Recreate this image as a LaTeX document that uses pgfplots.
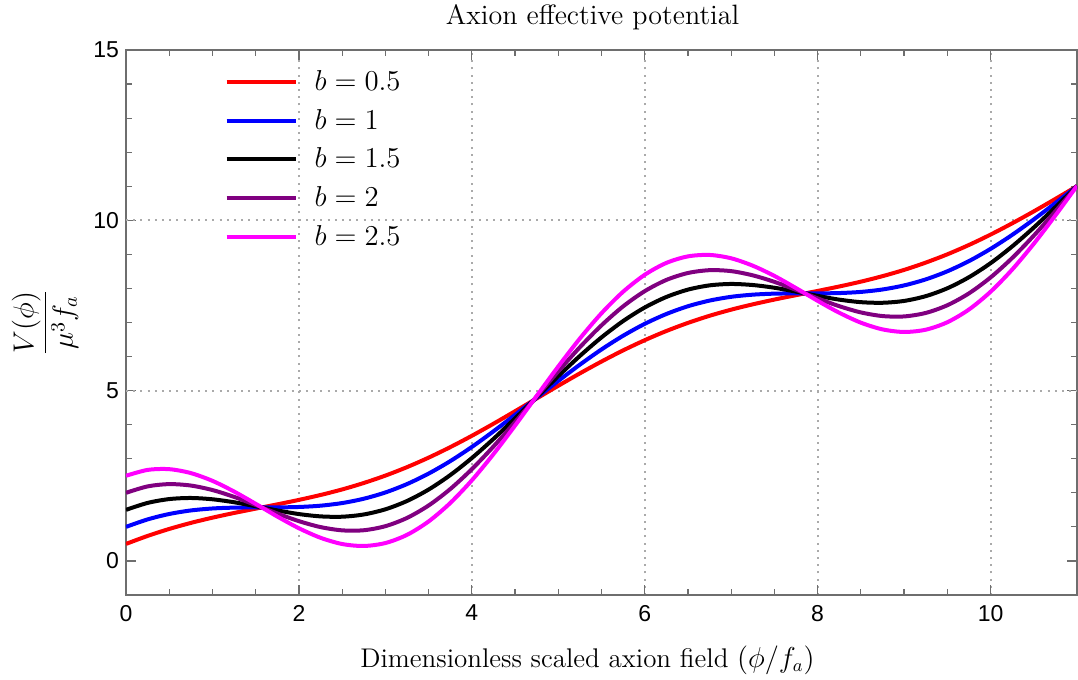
\documentclass[border=0pt]{standalone}
\usepackage{fontspec}
\usepackage{pgfplots}
\usepackage{pgfplotstable}
\pgfplotsset{compat=1.18}
\newfontfamily\tickfont{Liberation Sans}
\definecolor{mypurple}{RGB}{128,0,128}
\definecolor{mymagenta}{RGB}{255,0,255}
\definecolor{framegray}{RGB}{110,110,110}
\definecolor{gridgray}{RGB}{170,170,170}

\pgfplotstableread{
x      a      b      c      d      e
0      0.500  1.000  1.500  2.000  2.500
0.25   0.734  1.219  1.703  2.188  2.672
0.5    0.939  1.378  1.816  2.255  2.694
0.75   1.116  1.482  1.848  2.213  2.579
1.0    1.270  1.540  1.810  2.081  2.351
1.25   1.408  1.565  1.723  1.881  2.038
1.5    1.535  1.571  1.606  1.641  1.677
1.75   1.661  1.572  1.483  1.394  1.304
2.0    1.792  1.584  1.376  1.168  0.960
2.25   1.936  1.622  1.308  0.994  0.680
2.5    2.099  1.699  1.298  0.898  0.497
2.75   2.288  1.826  1.364  0.901  0.439
3.0    2.505  2.010  1.515  1.020  0.525
3.25   2.753  2.256  1.759  1.262  0.765
3.5    3.032  2.564  2.095  1.627  1.159
3.75   3.340  2.929  2.519  2.109  1.699
4.0    3.673  3.346  3.020  2.693  2.366
4.25   4.027  3.804  3.581  3.358  3.135
4.5    4.395  4.289  4.184  4.078  3.973
4.75   4.769  4.788  4.806  4.825  4.844
5.0    5.142  5.284  5.425  5.567  5.709
5.25   5.506  5.762  6.018  6.274  6.530
5.5    5.854  6.209  6.563  6.917  7.272
5.75   6.181  6.611  7.042  7.473  7.903
6.0    6.480  6.960  7.440  7.920  8.400
6.25   6.750  7.249  7.749  8.249  8.749
6.5    6.988  7.477  7.965  8.453  8.941
6.75   7.197  7.643  8.090  8.536  8.983
7.0    7.377  7.754  8.131  8.508  8.885
7.25   7.533  7.817  8.100  8.384  8.667
7.5    7.673  7.847  8.020  8.193  8.367
7.75   7.802  7.854  7.906  7.958  8.010
8.0    7.927  7.855  7.782  7.709  7.636
8.25   8.057  7.864  7.671  7.479  7.286
8.5    8.199  7.898  7.597  7.296  6.995
8.75   8.360  7.969  7.579  7.189  6.798
9.0    8.544  8.089  7.633  7.178  6.722
9.25   8.758  8.265  7.773  7.280  6.788
9.5    9.001  8.503  8.004  7.506  7.007
9.75   9.276  8.802  8.329  7.855  7.381
10.0   9.580  9.161  8.741  8.322  7.902
10.25  9.911  9.572  9.233  8.893  8.554
10.5   10.262 10.025 9.787  9.549  9.311
10.75  10.628 10.507 10.385 10.264 10.142
11.0   11.002 11.004 11.007 11.009 11.011
}\datatable

\begin{document}
\begin{tikzpicture}
\begin{axis}[
  scale only axis,
  width=475.5pt, height=272.5pt,
  xmin=0, xmax=11, ymin=-1, ymax=15,
  xtick={0,2,4,6,8,10},
  ytick={0,5,10,15},
  minor x tick num=3,
  minor y tick num=4,
  major tick length=5pt,
  minor tick length=3pt,
  axis line style={framegray, line width=0.8pt},
  every tick/.style={framegray, line width=0.6pt},
  xmajorgrids=true,
  extra y ticks={5,10},
  extra y tick labels={},
  extra y tick style={grid=major, major tick length=0pt},
  grid style={gridgray, line width=1pt, dash pattern=on 1pt off 2.6pt},
  tick label style={font=\tickfont\fontsize{11.5}{13}\selectfont},
  xticklabel style={yshift=-1.5pt},
  /pgf/number format/assume math mode=true,
  title={Axion effective potential},
  title style={font=\fontsize{14}{16}\selectfont, at={(0.5,1)}, anchor=center, yshift=10.5pt, xshift=-4.5pt},
  xlabel={Dimensionless scaled axion field $(\phi/f_a)$},
  xlabel style={font=\fontsize{13.5}{16}\selectfont, at={(0.5,0)}, anchor=center, yshift=-32.5pt, xshift=-7pt},
  ylabel={$\displaystyle\frac{V(\phi)}{\mu^3 f_a}$},
  ylabel style={font=\fontsize{14.5}{17}\selectfont, at={(axis description cs:-0.0852,0.5)}, anchor=center},
  legend cell align=left,
  legend style={at={(0.097,0.978)}, anchor=north west, draw=none, fill=none,
    font=\fontsize{14}{16}\selectfont, row sep=3.9pt},
  legend image code/.code={\draw[#1, line width=2pt] (0pt,0pt) -- (34.5pt,0pt); \path (41pt,0pt);},
  every axis plot/.append style={line width=2pt, smooth},
]
\addplot[red] table[x=x, y=a] {\datatable};
\addlegendentry{$b=0.5$}
\addplot[blue] table[x=x, y=b] {\datatable};
\addlegendentry{$b=1$}
\addplot[black] table[x=x, y=c] {\datatable};
\addlegendentry{$b=1.5$}
\addplot[mypurple] table[x=x, y=d] {\datatable};
\addlegendentry{$b=2$}
\addplot[mymagenta] table[x=x, y=e] {\datatable};
\addlegendentry{$b=2.5$}
\end{axis}
\pgfresetboundingbox
\useasboundingbox ([shift={(-63pt,-42.5pt)}]current axis.south west) rectangle ([shift={(0.5pt,25pt)}]current axis.north east);
\end{tikzpicture}
\end{document}
